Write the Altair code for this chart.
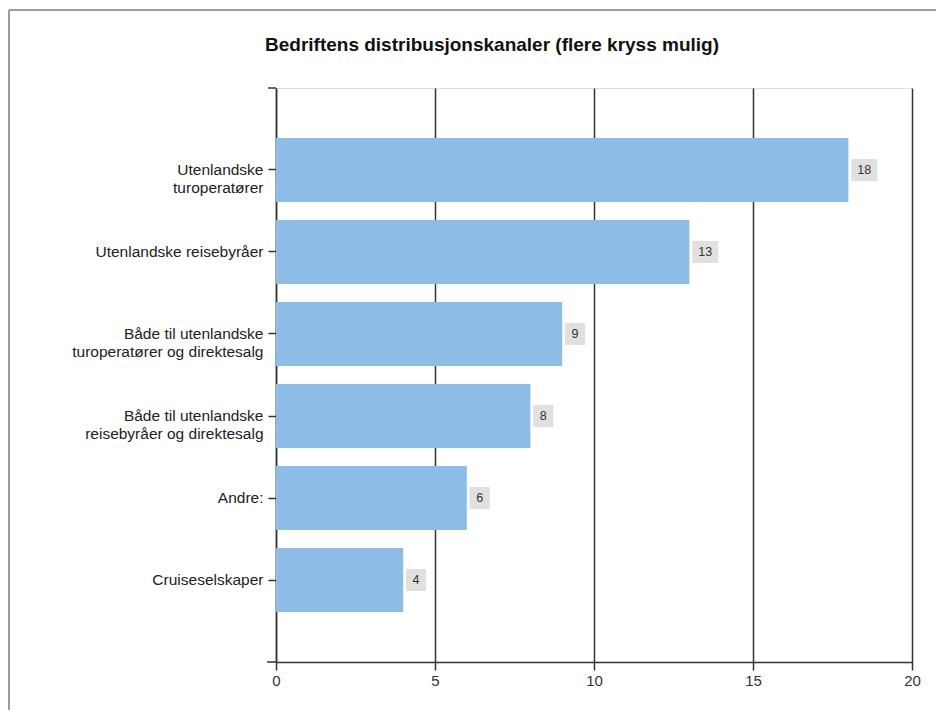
import altair as alt
import pandas as pd

categories = [
    "Utenlandske\nturoperatører",
    "Utenlandske reisebyråer",
    "Både til utenlandske\nturoperatører og direktesalg",
    "Både til utenlandske\nreisebyråer og direktesalg",
    "Andre:",
    "Cruiseselskaper",
]
values = [18, 13, 9, 8, 6, 4]
x_ticks = [0, 5, 10, 15, 20]
title_text = "Bedriftens distribusjonskanaler (flere kryss mulig)"

df = pd.DataFrame({"cat": categories, "value": values})
one = pd.DataFrame({"k": [0]})

W, H = 636, 574
FONT = "Liberation Sans"
DARK = "#333333"

yscale = alt.Scale(domain=categories, paddingInner=0.22, paddingOuter=0.61)
xscale = alt.Scale(domain=[0, 20], nice=False)

y_enc = alt.Y(
    "cat:N",
    scale=yscale,
    sort=None,
    axis=alt.Axis(
        title=None,
        domainColor=DARK,
        domainWidth=1.5,
        tickColor=DARK,
        tickWidth=1.5,
        tickSize=8,
        labelFont=FONT,
        labelFontSize=15.5,
        labelColor="#222222",
        labelPadding=5,
        labelLimit=400,
        labelLineHeight=18,
        labelExpr="split(datum.label, '\\n')",
    ),
)

x_enc = alt.X(
    "value:Q",
    scale=xscale,
    axis=alt.Axis(
        title=None,
        values=x_ticks,
        grid=True,
        gridColor=DARK,
        gridWidth=1.5,
        domainColor=DARK,
        domainWidth=1.5,
        tickColor=DARK,
        tickWidth=1.5,
        tickSize=8,
        labelFont=FONT,
        labelFontSize=15,
        labelColor="#333333",
        labelPadding=3,
        labelFlush=False,
    ),
)

base = alt.Chart(df)

bars = base.mark_bar(color="#8DBDE6").encode(x=x_enc, y=y_enc)

labeled = base.transform_calculate(
    lo="datum.value + 0.09",
    hi="datum.value + 0.09 + (datum.value >= 10 ? 0.82 : 0.63)",
).transform_calculate(mid="(datum.lo + datum.hi) / 2")

boxes = labeled.mark_bar(size=22, color="#E0E0E0").encode(
    x=alt.X("lo:Q", scale=xscale), x2="hi:Q", y=alt.Y("cat:N", scale=yscale, sort=None)
)

texts = labeled.mark_text(
    font=FONT, fontSize=12.5, color="#333333", align="center", baseline="middle"
).encode(
    x=alt.X("mid:Q", scale=xscale),
    y=alt.Y("cat:N", scale=yscale, sort=None),
    text="value:Q",
)

deco = alt.Chart(one)
cap_top = deco.mark_rule(color=DARK, strokeWidth=1.5).encode(
    x=alt.value(-8), x2=alt.value(0), y=alt.value(0)
)
cap_bottom = deco.mark_rule(color=DARK, strokeWidth=1.5).encode(
    x=alt.value(-9), x2=alt.value(0), y=alt.value(H)
)
frame_top = deco.mark_rule(color="#9a9a9a", strokeWidth=2).encode(
    x=alt.value(-267), x2=alt.value(W + 24), y=alt.value(-78)
)
frame_left = deco.mark_rule(color="#9a9a9a", strokeWidth=2).encode(
    x=alt.value(-267), y=alt.value(-78), y2=alt.value(H + 48)
)

chart = (
    alt.layer(bars, boxes, texts, cap_top, cap_bottom, frame_top, frame_left)
    .properties(
        width=W,
        height=H,
        title=alt.TitleParams(
            title_text,
            font=FONT,
            fontSize=19,
            fontWeight="bold",
            color="#111111",
            anchor="middle",
            frame="group",
            offset=-46,
            dx=-102,
        ),
        autosize=alt.AutoSizeParams(type="none"),
        padding={"left": 268, "top": 80, "right": 24, "bottom": 48},
    )
    .configure_view(stroke=None)
    .configure(background="white")
)

chart.save("out.html", embed_options={"renderer": "svg", "actions": False})
